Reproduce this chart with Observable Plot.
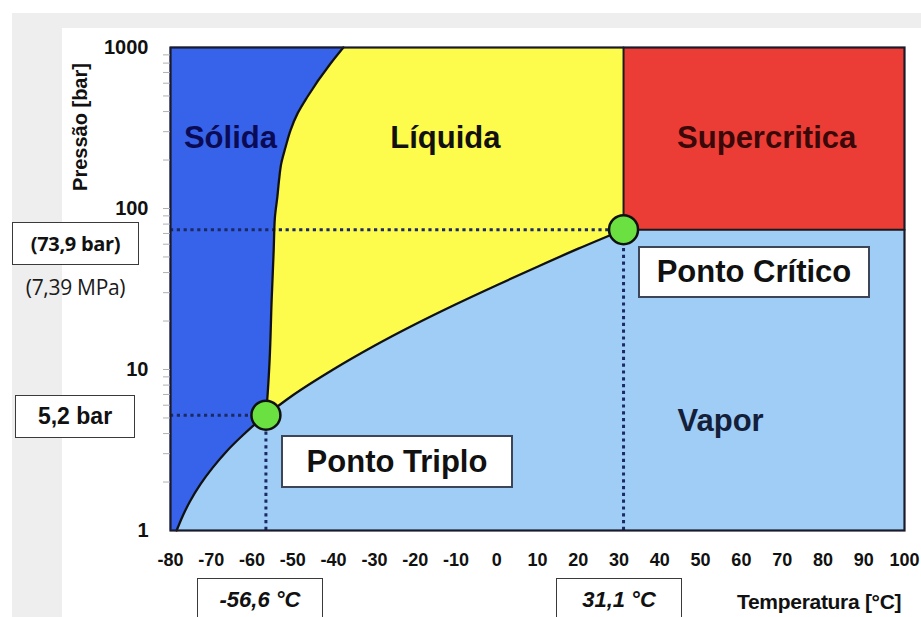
<!DOCTYPE html>
<html>
<head>
<meta charset="utf-8">
<script src="https://cdn.jsdelivr.net/npm/d3@7"></script>
<script src="https://cdn.jsdelivr.net/npm/@observablehq/plot@0.6"></script>
<style>
  html, body { margin: 0; padding: 0; background: #fff; overflow: hidden; }
  #wrap { position: relative; width: 921px; height: 617px; overflow: hidden; background: #fff; font-family: "Liberation Sans", Arial, sans-serif; }
  .band { position: absolute; background: #eeeeee; }
  #chart { position: absolute; left: 0; top: 0; }
  .box { position: absolute; box-sizing: border-box; background: #fff; border: 1.5px solid #3a3a3a; display: flex; align-items: center; justify-content: center; color: #111; white-space: nowrap; }
  .txt { position: absolute; white-space: nowrap; color: #111; }
</style>
</head>
<body>
<div id="wrap">
  <div class="band" style="left:12px;top:13px;width:909px;height:15px;"></div>
  <div class="band" style="left:12px;top:13px;width:50px;height:604px;"></div>
  <div id="chart"></div>
</div>
<script>
// ---- data ----
const tempTicks = [-80, -70, -60, -50, -40, -30, -20, -10, 0, 10, 20, 30, 40, 50, 60, 70, 80, 90, 100];
const pressTicks = [1, 10, 100, 1000];
const pressMinorTicks = [2, 3, 4, 5, 6, 7, 8, 9, 10, 20, 30, 40, 50, 60, 70, 80, 90, 100, 200, 300, 400, 500, 600, 700, 800, 900];
const tempRange = [-80, 100];
const pressRange = [1, 1000];

const triplePoint = {T: -56.6, P: 5.2};
const criticalPoint = {T: 31.1, P: 73.9};

// sublimation curve (solid / vapor)
const sublimT = [-78.5, -77.06, -75.1, -72.64, -69.7, -66.27, -62.34, -59.4, -56.6];
const sublimP = [1.0, 1.223, 1.536, 1.94, 2.448, 3.099, 3.891, 4.548, 5.2];
// melting curve (solid / liquid)
const meltT = [-56.6, -56.3, -55.7, -55.2, -54.7, -54.4, -53.8, -53.4, -52.85, -51.8, -50.6, -48.9, -46.5, -40.8, -37.6];
const meltP = [5.2, 6.4, 11.4, 26.8, 54.8, 88, 118, 149, 190, 240, 305, 387, 491, 792, 1000];
// vaporization curve (liquid / vapor)
const vapT = [-56.6, -50, -40, -30, -20, -10, 0, 10, 20, 31.1];
const vapP = [5.2, 6.92, 10.04, 14.05, 19.11, 25.44, 33.4, 43.5, 56.3, 73.9];

// region labels
const regionNames = ["Sólida", "Líquida", "Supercritica", "Vapor"];
const regionT = [-65.3, -12.6, 66.2, 54.9];
const regionP = [272, 272, 272, 4.8];
const regionColors = ["#0b0b55", "#111111", "#3a0808", "#14203a"];

// ---- build tables ----
const zip = (ts, ps) => ts.map((T, i) => ({T, P: ps[i]}));
const sublim = zip(sublimT, sublimP);
const melt = zip(meltT, meltP);
const vap = zip(vapT, vapP);
const critBorder = [
  {T: criticalPoint.T, P: pressRange[1]},
  {T: criticalPoint.T, P: criticalPoint.P},
  {T: tempRange[1], P: criticalPoint.P}
];
const labels = regionNames.map((name, i) => ({name, T: regionT[i], P: regionP[i], color: regionColors[i]}));

const solidFill = "#3763ea";
const dotted = {stroke: "#1b2a66", strokeWidth: 3, strokeDasharray: "3.2 3.6"};
const boundary = {stroke: "#111", strokeWidth: 2.3};

const chart = Plot.plot({
  width: 921,
  height: 617,
  marginLeft: 170,
  marginRight: 17,
  marginTop: 47,
  marginBottom: 87,
  style: {background: "transparent", fontFamily: "'Liberation Sans', Arial, sans-serif", overflow: "visible"},
  x: {domain: tempRange},
  y: {type: "log", domain: pressRange},
  marks: [
    // vapour background
    Plot.frame({fill: "#9fcdf6", stroke: "none"}),
    // liquid: above vaporization curve
    Plot.areaY(vap, {x: "T", y1: "P", y2: () => pressRange[1], curve: "monotone-x", fill: "#fdfb4c"}),
    // supercritical
    Plot.rect([criticalPoint], {x1: "T", x2: () => tempRange[1], y1: "P", y2: () => pressRange[1], fill: "#eb3d35"}),
    // solid: left of sublimation + melting curves
    Plot.areaX(sublim, {y: "P", x1: () => tempRange[0], x2: "T", curve: "monotone-y", fill: solidFill, stroke: solidFill, strokeWidth: 0.6}),
    Plot.areaX(melt, {y: "P", x1: () => tempRange[0], x2: "T", curve: "monotone-y", fill: solidFill, stroke: solidFill, strokeWidth: 0.6}),
    // dotted guide lines
    Plot.ruleY([criticalPoint], {y: "P", x1: () => tempRange[0], x2: "T", ...dotted}),
    Plot.ruleX([criticalPoint], {x: "T", y1: () => pressRange[0], y2: "P", ...dotted}),
    Plot.ruleY([triplePoint], {y: "P", x1: () => tempRange[0], x2: "T", ...dotted}),
    Plot.ruleX([triplePoint], {x: "T", y1: () => pressRange[0], y2: "P", ...dotted}),
    // phase boundaries
    Plot.line(sublim, {x: "T", y: "P", curve: "monotone-y", ...boundary}),
    Plot.line(melt, {x: "T", y: "P", curve: "monotone-y", ...boundary}),
    Plot.line(vap, {x: "T", y: "P", curve: "monotone-x", ...boundary}),
    Plot.line(critBorder, {x: "T", y: "P", stroke: "#1a1a1a", strokeWidth: 2}),
    Plot.frame({stroke: "#1a1a2a", strokeWidth: 2.2}),
    // special points
    Plot.dot([triplePoint, criticalPoint], {x: "T", y: "P", r: 14.5, fill: "#6ae140", stroke: "#111", strokeWidth: 2.5}),
    // region labels
    Plot.text(labels, {x: "T", y: "P", text: "name", fill: "color", fontSize: 31, fontWeight: "bold"}),
    // axes
    Plot.axisX({ticks: tempTicks, tickSize: 0, tickPadding: 23, fontSize: 18, fontWeight: "bold", label: null, tickFormat: d => String(d), fill: "#111"}),
    Plot.axisY({ticks: pressMinorTicks, tickSize: 7, tickFormat: () => "", stroke: "#b0b0b0", label: null}),
    Plot.axisY({ticks: pressTicks, tickSize: 0, tickPadding: 22, fontSize: 20, fontWeight: "bold", label: null, tickFormat: d => String(d), fill: "#111"})
  ]
});
document.getElementById("chart").appendChild(chart);

// ---- annotations (HTML overlays) ----
const wrap = document.getElementById("wrap");
function add(cls, text, css) {
  const el = document.createElement("div");
  el.className = cls;
  el.textContent = text;
  el.setAttribute("style", css);
  wrap.appendChild(el);
  return el;
}
add("box", "(73,9 bar)", "left:12px;top:222px;width:127px;height:43px;font-family:'Open Sans',sans-serif;font-weight:700;font-size:20px;letter-spacing:-0.3px;");
add("txt", "(7,39 MPa)", "left:10px;top:273px;width:131px;text-align:center;font-family:'Open Sans',sans-serif;font-size:21px;letter-spacing:-0.3px;color:#1a1a1a;");
add("box", "5,2 bar", "left:15px;top:395px;width:120px;height:43px;font-weight:bold;font-size:23px;");
add("box", "-56,6 °C", "left:197px;top:578px;width:126px;height:50px;padding-bottom:6px;font-weight:bold;font-style:italic;font-size:22px;");
add("box", "31,1 °C", "left:556px;top:578px;width:126px;height:50px;padding-bottom:6px;font-weight:bold;font-style:italic;font-size:22px;");
add("txt", "Temperatura [°C]", "left:737px;top:590px;font-weight:bold;font-size:21px;letter-spacing:-0.3px;");
add("txt", "Pressão [bar]", "left:80px;top:127px;font-weight:bold;font-size:20px;transform:translate(-50%,-50%) rotate(-90deg);");
add("box", "Ponto Crítico", "left:638px;top:246px;width:232px;height:52px;border:2px solid #3d4558;font-weight:bold;font-size:31px;");
add("box", "Ponto Triplo", "left:281px;top:435px;width:232px;height:53px;border:2px solid #3d4558;font-weight:bold;font-size:31px;");
</script>
</body>
</html>
